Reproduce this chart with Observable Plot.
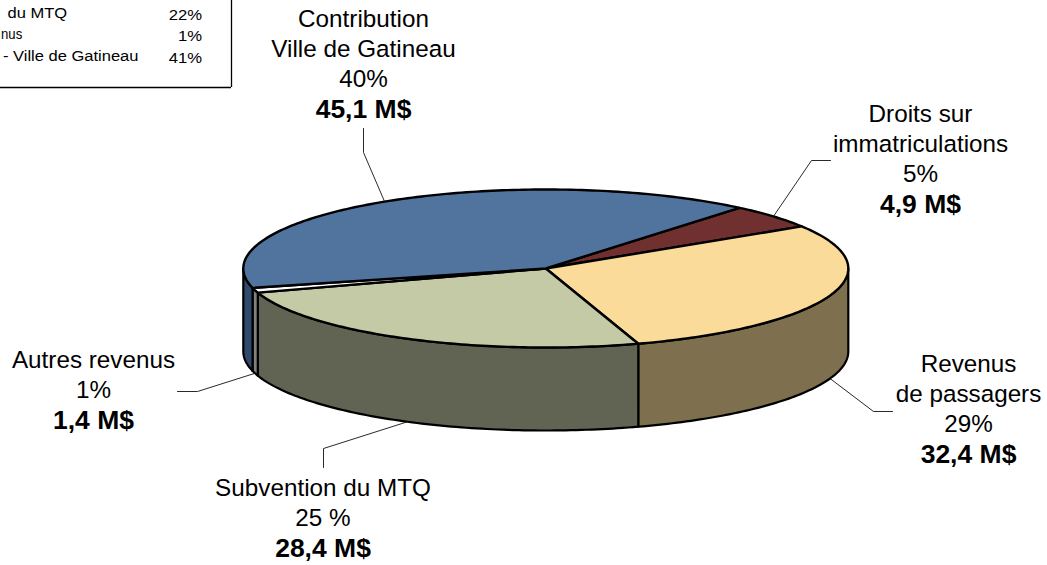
<!DOCTYPE html>
<html>
<head>
<meta charset="utf-8">
<script src="https://cdn.jsdelivr.net/npm/d3@7"></script>
<script src="https://cdn.jsdelivr.net/npm/@observablehq/plot@0.6"></script>
<style>
html,body{margin:0;padding:0;background:#fff;}
svg{display:block;}
</style>
</head>
<body>
<div id="chart"></div>
<script>
// ---- Data, clockwise on screen starting at the maroon slice
const categories = ["Droits sur immatriculations","Revenus de passagers","Subvention du MTQ","Autres revenus","Contribution Ville de Gatineau"];
const percents = [5,29,25,1,40];
const nameLines = [["Droits sur","immatriculations"],["Revenus","de passagers"],["Subvention du MTQ"],["Autres revenus"],["Contribution","Ville de Gatineau"]];
const percentLabels = ["5%","29%","25 %","1%","40%"];
const amountLabels = ["4,9 M$","32,4 M$","28,4 M$","1,4 M$","45,1 M$"];
const legendNames = ["du MTQ","nus","- Ville de Gatineau"];
const legendValues = ["22%","1%","41%"];

// ---- Styles and layout (kept apart from the data)
const topColors = ["#703030","#fadb99","#c4c9a6","#ffffff","#51749f"];
const wallColors = ["#4a2020","#7e6f4e","#616453","#808080","#2f4a6b"];
const pie = {cx:545.3, cy:268, rx:302.5, ry:79, depth:83, start:-50.2};
const elbows = [[[811,160],[830,160]],[[873,411],[892,411]],[[323,448],[323,467]],[[197,391],[177,391]],[[363,152],[363,128]]];
const labelAnchors = [[920,121],[968,371],[322.5,495],[93,367],[363,26]];
const lineHeight = 30, boldGap = 31;
const legendLayout = {nameX:[7,0.5,2.5], valueX:201.5, nameY:[13,34,56], valueY:[15,36,58], right:231, bottom:87};
const fontFamily = "'Liberation Sans', Arial, sans-serif";
const fontSizes = {regular:23.5, bold:25, legendName:15.5, legendValue:15.5};
// Horizontal widening of the type, one entry per text mark in drawing order
const stretches = [() => 1.033, () => 1.06, i => i === 1 ? 0.85 : 1.065, () => 1.075];

// ---- Geometry derived from the values
const rad = d => d*Math.PI/180;
const pt = (t,dz=0) => ({x:pie.cx+pie.rx*Math.cos(rad(t)), y:pie.cy+pie.ry*Math.sin(rad(t))+dz});
const arc = (t0,t1,dz=0) => {
  const n = Math.max(2,Math.ceil(Math.abs(t1-t0)));
  return d3.range(n+1).map(k=>pt(t0+(t1-t0)*k/n,dz));
};
let angle = pie.start;
const slices = percents.map((p,i)=>{
  const s = {i, name:categories[i], t0:angle, t1:angle+p*3.6};
  angle = s.t1;
  return s;
});

const topPolys = [], wallPolys = [], leaders = [], texts = [], bolds = [];
for (const s of slices) {
  const pts = [{x:pie.cx,y:pie.cy}, ...arc(s.t0,s.t1)];
  topPolys.push(...pts.map(p=>({...p, id:s.name, color:topColors[s.i]})));
  const w0 = Math.max(s.t0,0), w1 = Math.min(s.t1,180);
  if (w1>w0) {
    const w = [...arc(w0,w1), ...arc(w0,w1,pie.depth).reverse()];
    wallPolys.push(...w.map(p=>({...p, id:s.name, color:wallColors[s.i]})));
  }
  const mid = (s.t0+s.t1)/2;
  const start = (mid>0 && mid<180) ? pt(mid,pie.depth) : pt(mid);
  [start,...elbows[s.i].map(([x,y])=>({x,y}))].forEach(p=>leaders.push({...p,id:s.name}));
  const [lx,ly] = labelAnchors[s.i];
  const lines = [...nameLines[s.i], percentLabels[s.i]];
  lines.forEach((t,k)=>texts.push({x:lx,y:ly+k*lineHeight,t}));
  bolds.push({x:lx,y:ly+(lines.length-1)*lineHeight+boldGap,t:amountLabels[s.i]});
}
const legendRows = legendNames.map((n,k)=>({n,v:legendValues[k],nx:legendLayout.nameX[k],ny:legendLayout.nameY[k],vy:legendLayout.valueY[k]}));

const chart = Plot.plot({
  width:1047, height:565, margin:0,
  style:{background:"#fff", fontFamily},
  x:{domain:[0,1047], range:[0,1047], axis:null},
  y:{domain:[0,565], range:[0,565], axis:null},
  color:{type:"identity"},
  marks:[
    Plot.line(wallPolys,{x:"x",y:"y",z:"id",fill:"color",stroke:"#000",strokeWidth:2.2,curve:"linear-closed",strokeLinejoin:"round"}),
    Plot.line(topPolys,{x:"x",y:"y",z:"id",fill:"color",stroke:"#000",strokeWidth:2.4,curve:"linear-closed",strokeLinejoin:"round"}),
    Plot.line(leaders,{x:"x",y:"y",z:"id",stroke:"#111",strokeWidth:0.9}),
    Plot.text(texts,{x:"x",y:"y",text:"t",fontSize:fontSizes.regular,fontFamily,fill:"#000",lineAnchor:"bottom",textAnchor:"middle"}),
    Plot.text(bolds,{x:"x",y:"y",text:"t",fontSize:fontSizes.bold,fontWeight:"bold",fontFamily,fill:"#000",lineAnchor:"bottom",textAnchor:"middle"}),
    Plot.ruleX([legendLayout.right],{y1:0,y2:legendLayout.bottom,stroke:"#000",strokeWidth:1.3}),
    Plot.ruleY([legendLayout.bottom],{x1:0,x2:legendLayout.right,stroke:"#000",strokeWidth:1.3}),
    Plot.text(legendRows,{x:"nx",y:"ny",text:"n",fontSize:fontSizes.legendName,fontFamily,textAnchor:"start",fill:"#000"}),
    Plot.text(legendRows,{x:()=>legendLayout.valueX,y:"vy",text:"v",fontSize:fontSizes.legendValue,fontFamily,textAnchor:"end",fill:"#000"})
  ]
});
// The reference's type is slightly wider than it is tall: widen each text about its own anchor
chart.querySelectorAll('g[aria-label="text"]').forEach((g,m)=>{
  g.querySelectorAll("text").forEach((t,i)=>{
    const own = t.getAttribute("transform");
    if (own) {
      t.setAttribute("transform",`${own} scale(${stretches[m](i)},1)`);
    } else {
      const x = +t.getAttribute("x"), k = stretches[m](i);
      t.setAttribute("transform",`translate(${x},0) scale(${k},1) translate(${-x},0)`);
    }
  });
});
document.getElementById("chart").append(chart);
</script>
</body>
</html>
